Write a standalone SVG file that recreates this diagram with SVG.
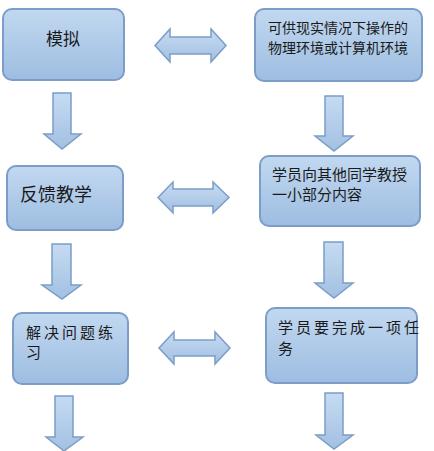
<svg xmlns="http://www.w3.org/2000/svg" width="434" height="451" viewBox="0 0 434 451">
<defs>
<linearGradient id="g" x1="0" y1="0" x2="0" y2="1">
<stop offset="0" stop-color="#c2d8f0"/>
<stop offset="1" stop-color="#9dbde1"/>
</linearGradient>
<linearGradient id="gh" x1="0" y1="0" x2="0" y2="1">
<stop offset="0" stop-color="#c6dbf2"/>
<stop offset="1" stop-color="#a2c0e2"/>
</linearGradient>
</defs>
<style>
.box{fill:url(#g);stroke:#7b9dc7;stroke-width:2}
.arr{fill:url(#gh);stroke:#7b9dc7;stroke-width:1.5;stroke-linejoin:miter}
text{font-family:"Noto Sans CJK SC","Liberation Sans",sans-serif;fill:#1a1a1a}
</style>
<g id="connectors">
<path class="arr" d="M155,45.5 L170,29 L170,37 L211,37 L211,29 L226,45.5 L211,62 L211,54 L170,54 L170,62 Z"/>
<path class="arr" d="M158,197.5 L173,182 L173,189 L213,189 L213,182 L229,197.5 L213,213 L213,206 L173,206 L173,213 Z"/>
<path class="arr" d="M159,348 L174,332 L174,340 L215,340 L215,332 L230,348 L215,364 L215,356 L174,356 L174,364 Z"/>
<path class="arr" d="M53,93 L71,93 L71,134 L81,134 L62,149 L44,134 L53,134 Z"/>
<path class="arr" d="M325,96 L343,96 L343,136 L353,136 L334,151 L315,136 L325,136 Z"/>
<path class="arr" d="M52,244 L71,244 L71,285 L81,285 L62,299 L42,285 L52,285 Z"/>
<path class="arr" d="M324,242 L343,242 L343,283 L353,283 L334,298 L315,283 L324,283 Z"/>
<path class="arr" d="M55,396 L73,396 L73,437 L83,437 L64,451 L46,437 L55,437 Z"/>
<path class="arr" d="M325,393 L343,393 L343,435 L353,435 L334,449 L316,435 L325,435 Z"/>
</g>
<g id="n1">
<rect class="box" x="3" y="9" width="121" height="71" rx="9"/>
<text x="63" y="45" font-size="17" text-anchor="middle">模拟</text>
</g>
<g id="n2">
<rect class="box" x="255" y="9" width="167" height="72" rx="9"/>
<text x="338" y="33" font-size="14" text-anchor="middle">可供现实情况下操作的</text>
<text x="338" y="53" font-size="14" text-anchor="middle">物理环境或计算机环境</text>
</g>
<g id="n3">
<rect class="box" x="7" y="166" width="116" height="64" rx="9"/>
<text x="20" y="201" font-size="18">反馈教学</text>
</g>
<g id="n4">
<rect class="box" x="260" y="156" width="160" height="70" rx="9"/>
<text x="272" y="180" font-size="15">学员向其他同学教授</text>
<text x="272" y="200" font-size="15">一小部分内容</text>
</g>
<g id="n5">
<rect class="box" x="13" y="313" width="115" height="71" rx="9"/>
<text x="26" y="338" font-size="15" letter-spacing="3">解决问题练</text>
<text x="26" y="358" font-size="15">习</text>
</g>
<g id="n6">
<rect class="box" x="266" y="308" width="151" height="75" rx="9"/>
<text x="278" y="333" font-size="15" letter-spacing="3">学员要完成一项任</text>
<text x="278" y="354" font-size="15">务</text>
</g>
</svg>
